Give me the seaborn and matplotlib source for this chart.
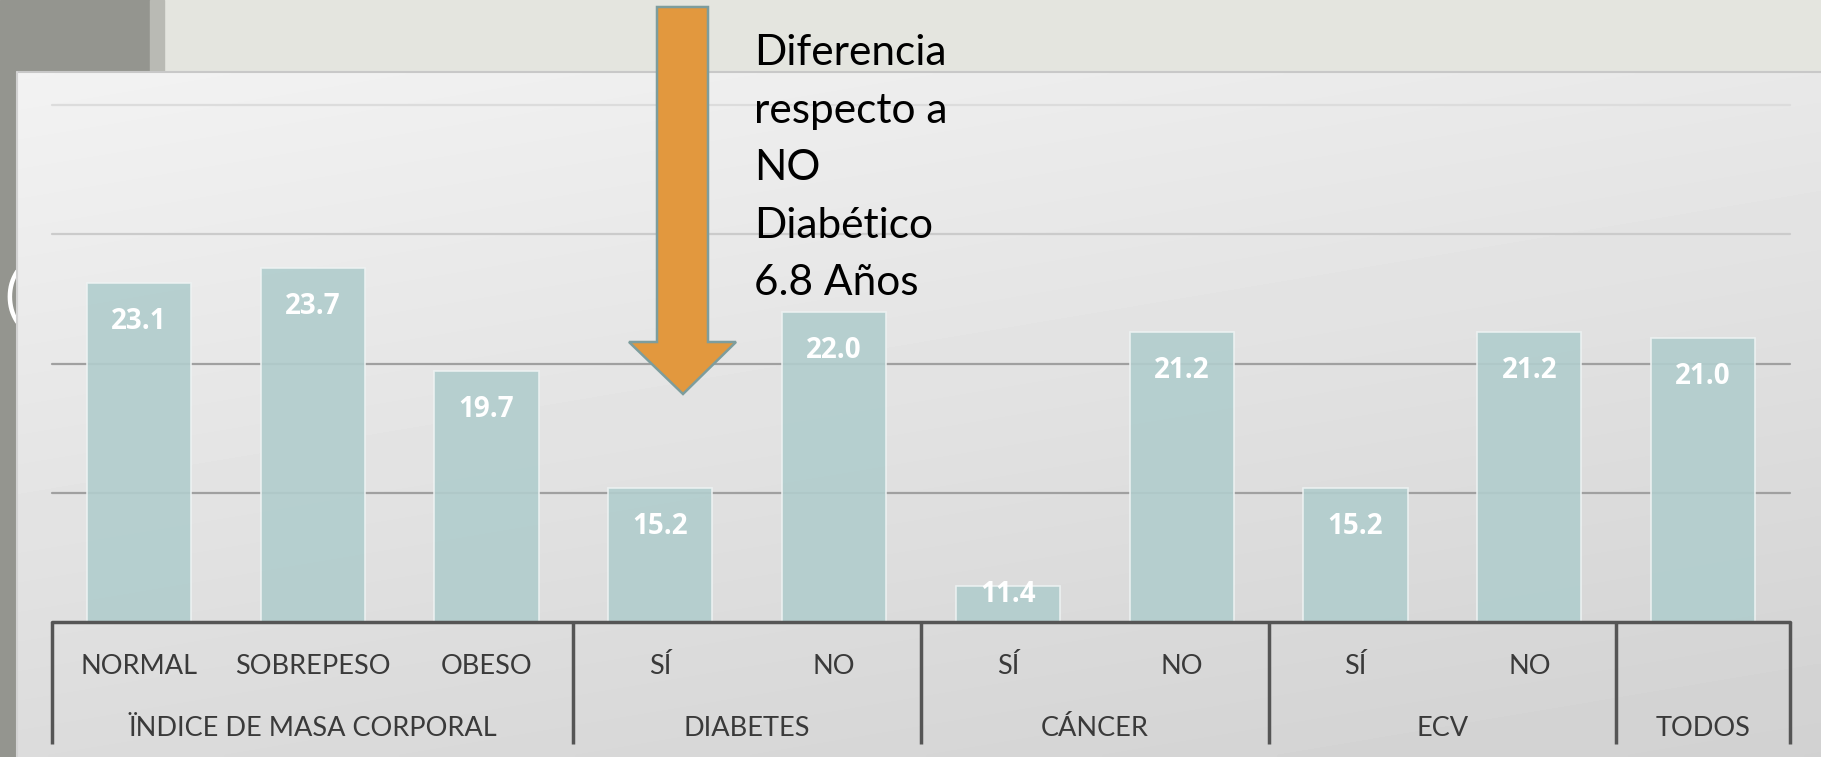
import numpy as np
import pandas as pd
import matplotlib.pyplot as plt
import seaborn as sns
from matplotlib.patches import Rectangle, Polygon

# Chart data
groups = ['ÏNDICE DE MASA CORPORAL', 'DIABETES', 'CÁNCER', 'ECV', 'TODOS']
group_sizes = [3, 2, 2, 2, 1]
subcats = ['NORMAL', 'SOBREPESO', 'OBESO', 'SÍ', 'NO', 'SÍ', 'NO', 'SÍ', 'NO', '']
values = [23.1, 23.7, 19.7, 15.2, 22.0, 11.4, 21.2, 15.2, 21.2, 21.0]
y_min, y_max = 10, 30
y_ticks = [15, 20, 25, 30]
note_lines = ['Diferencia', 'respecto a', 'NO', 'Diabético', '6.8 Años']

W, H = 1821, 757

sns.set_theme(style='white')
plt.rcParams['font.family'] = ['Lato', 'DejaVu Sans']

fig = plt.figure(figsize=(W / 100, H / 100), dpi=100)

# Slide background (pixel coordinates)
bg = fig.add_axes([0, 0, 1, 1], zorder=0)
bg.add_patch(Rectangle((0, 0), W, H, color='#e4e5df', zorder=0))
bg.add_patch(Rectangle((0, 0), 150, H, color='#94958f', zorder=0))
bg.add_patch(Rectangle((150, 0), 14, H, color='#b9bab4', zorder=0))
bg.text(4, 298, '(', color='white', fontsize=42, va='center', ha='left', zorder=0.5)

# Chart panel with soft gradient
px0, py0 = 17, 72
gx, gy = np.meshgrid(np.linspace(0, 1, 300), np.linspace(0, 1, 150))
grad = 0.95 - 0.09 * gy - 0.04 * gx
bg.imshow(grad, cmap='gray', vmin=0, vmax=1, extent=(px0, W, H, py0),
          aspect='auto', interpolation='bilinear', zorder=1)
bg.plot([px0, W], [py0, py0], color='#c8c8c8', lw=1.5, zorder=1.5)
bg.plot([px0, px0], [py0, H], color='#d2d2d2', lw=1.5, zorder=1.5)
bg.set_xlim(0, W)
bg.set_ylim(H, 0)
bg.axis('off')

# Main chart axes
ax_left, ax_right, ax_top, ax_base = 52, 1790, 105, 622
ax = fig.add_axes([ax_left / W, (H - ax_base) / H, (ax_right - ax_left) / W,
                   (ax_base - ax_top) / H], zorder=1)
ax.patch.set_alpha(0)

group_of = np.repeat(groups, group_sizes)
keys = [f'{g}|{i}' for i, g in enumerate(group_of)]
df = pd.DataFrame({'key': keys, 'value': values})

grid_colors = ['#a0a0a0', '#a0a0a0', '#cbcbcb', '#dcdcdc']
for t, c in zip(y_ticks, grid_colors):
    ax.axhline(t, color=c, lw=1.6, zorder=1, clip_on=False)

sns.barplot(data=df, x='key', y='value', color='#b1cdcd', saturation=1,
            width=0.6, alpha=0.9, edgecolor='#eef3f3', linewidth=1.2,
            ax=ax, zorder=3)

ax.set_ylim(y_min, y_max)
ax.set_xlim(-0.5, len(values) - 0.5)
ax.set_xticks([])
ax.set_yticks([])
ax.set_xlabel('')
ax.set_ylabel('')
for s in ax.spines.values():
    s.set_visible(False)

# Value labels inside bar ends
ax_h_px = ax_base - ax_top
ppu = ax_h_px / (y_max - y_min)
for i, v in enumerate(values):
    bar_px = (v - y_min) * ppu
    off = min(36, bar_px - 30)
    ax.annotate(f'{v:.1f}', (i, v), xytext=(0, -(off + 10) * 0.72),
                textcoords='offset points', ha='center', va='baseline',
                color='white', fontweight='bold', fontsize=20, zorder=5,
                family=['Open Sans', 'DejaVu Sans'])

# Multi-level category axis
trans = ax.get_xaxis_transform()
ax.axhline(y_min, color='#555555', lw=2.5, zorder=4, clip_on=False)
bounds = np.cumsum([0] + group_sizes) - 0.5
for b in bounds:
    ax.plot([b, b], [0, -(744 - ax_base) / ax_h_px], transform=trans,
            color='#555555', lw=2.5, clip_on=False, solid_capstyle='butt')
for i, s in enumerate(subcats):
    ax.text(i, -(674 - ax_base) / ax_h_px, s, transform=trans, ha='center',
            va='baseline', fontsize=19.5, color='#3a3a3a')
for g, a, b in zip(groups, bounds[:-1], bounds[1:]):
    ax.text((a + b) / 2, -(736 - ax_base) / ax_h_px, g, transform=trans,
            ha='center', va='baseline', fontsize=19.5, color='#3a3a3a')

# Arrow and note on top
fg = fig.add_axes([0, 0, 1, 1], zorder=3)
fg.patch.set_alpha(0)
arrow = Polygon([(657, 7), (708, 7), (708, 342), (736, 342), (683, 394),
                 (629, 342), (657, 342)], closed=True,
                facecolor='#e2983e', edgecolor='#7d9d9d', lw=1.8)
fg.add_patch(arrow)
for k, line in enumerate(note_lines):
    fg.text(754, 65 + k * 57.5, line, fontsize=30.5, ha='left', va='baseline',
            color='black')
fg.set_xlim(0, W)
fg.set_ylim(H, 0)
fg.axis('off')

fig.savefig('out.png', dpi=100)
